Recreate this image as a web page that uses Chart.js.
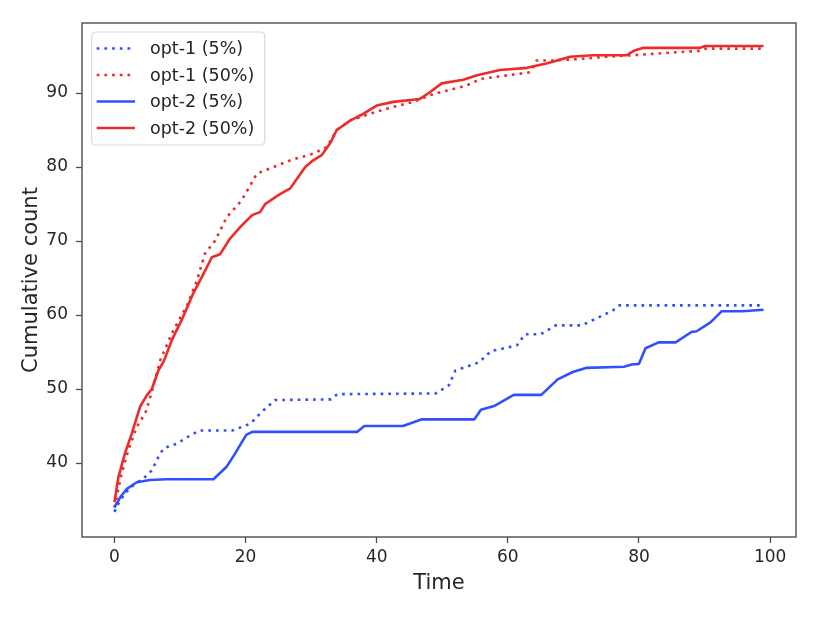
<!DOCTYPE html>
<html>
<head>
<meta charset="utf-8">
<script src="https://cdn.jsdelivr.net/npm/chart.js@4.4.1/dist/chart.umd.min.js"></script>
<style>
  body { margin: 0; background: #fff; }
  canvas { display: block; }
</style>
</head>
<body>
<canvas id="chart" width="822" height="617"></canvas>
<script>
// series: times and cumulative counts
const opt1LowT = [0, 0.6, 1.6, 2.9, 4.4, 5.7, 6.7, 7.5, 9.5, 11.5, 13, 18, 20.7, 22.7, 24.5, 33, 34, 49, 51, 52, 55.6, 57.4, 61.4, 62.6, 65, 67.3, 71.3, 76, 77, 99];
const opt1LowV = [33.4, 34.5, 35.9, 37.0, 37.9, 39.0, 40.8, 42.0, 42.6, 43.7, 44.4, 44.4, 45.3, 47.1, 48.5, 48.6, 49.3, 49.4, 50.5, 52.5, 53.6, 55.1, 55.9, 57.4, 57.4, 58.6, 58.6, 60.6, 61.3, 61.3];

const opt1HighT = [0, 1.1, 2.1, 3.4, 4.7, 5.4, 7.0, 8.75, 10.5, 11, 12.6, 13.8, 15.4, 17.1, 19.4, 20.7, 21.7, 23.7, 26.8, 30.3, 32.4, 33.9, 36, 39, 42, 45.6, 48.1, 49.7, 53.7, 55.8, 63.4, 64.4, 67, 71, 75, 79, 84, 89.3, 90.1, 99];
const opt1HighV = [34.0, 38.6, 41.7, 44.9, 46.7, 48.7, 53.9, 57.5, 60.4, 61.1, 64.7, 68.3, 70.1, 73.2, 75.5, 77.5, 79.1, 79.8, 80.9, 81.8, 82.7, 85.0, 86.3, 87.2, 88.0, 88.8, 89.7, 90.1, 91.0, 91.9, 92.8, 94.4, 94.4, 94.6, 94.9, 95.1, 95.4, 95.7, 96.0, 96.0];

const opt2LowT = [0, 0.9, 1.9, 3.4, 5.4, 8, 15.1, 17.1, 18.2, 20.1, 21, 37, 38.1, 44, 46.9, 54.9, 55.9, 57.9, 60.9, 65.1, 67.6, 69.9, 71.9, 77.7, 78.9, 80, 81, 83, 85.6, 88, 88.8, 90.9, 92.6, 95.8, 99];
const opt2LowV = [34.0, 35.4, 36.5, 37.4, 37.7, 37.8, 37.8, 39.5, 41.0, 43.8, 44.2, 44.2, 45.0, 45.0, 45.9, 45.9, 47.2, 47.7, 49.2, 49.2, 51.3, 52.3, 52.85, 53.0, 53.3, 53.4, 55.5, 56.3, 56.3, 57.7, 57.8, 59.0, 60.5, 60.5, 60.7];

const opt2HighT = [0, 0.6, 1.6, 2.65, 3.9, 4.9, 5.7, 6.7, 7.5, 8.75, 10.3, 12, 13.6, 14.85, 16.1, 17.6, 19.2, 21, 22.2, 23, 25, 26.8, 28, 29.1, 30.3, 31.6, 32.9, 33.9, 36, 38, 40, 42.5, 46.6, 48.1, 49.9, 53.2, 55.3, 58.8, 62.9, 65.9, 67.5, 69.5, 73, 78.1, 79.2, 80.7, 89.3, 90.1, 99];
const opt2HighV = [34.7, 38.1, 41.3, 44.0, 47.6, 49.1, 50.0, 52.5, 53.7, 56.6, 59.4, 62.9, 65.6, 67.8, 68.2, 70.3, 71.9, 73.5, 73.9, 75.0, 76.2, 77.1, 78.6, 80.0, 80.9, 81.6, 83.2, 85.0, 86.3, 87.2, 88.3, 88.8, 89.2, 90.1, 91.3, 91.8, 92.4, 93.1, 93.4, 94.0, 94.4, 94.9, 95.1, 95.1, 95.7, 96.1, 96.1, 96.35, 96.35];

const seriesLabels = ['opt-1 (5%)', 'opt-1 (50%)', 'opt-2 (5%)', 'opt-2 (50%)'];
const xTicks = [0, 20, 40, 60, 80, 100];
const yTicks = [40, 50, 60, 70, 80, 90];

const BLUE = '#3050ff';
const RED = '#ee2a2a';
const INK = '#262626';
const SPINE = '#4d4d4d';
const FONT = "'DejaVu Sans', sans-serif";

function pts(t, v) {
    return t.map((x, i) => ({ x: x, y: v[i] }));
}

const dotted = [2.7, 5];

// frame around the plot area, like matplotlib spines
const framePlugin = {
    id: 'frame',
    afterDraw(chart) {
        const { ctx, chartArea: a } = chart;
        ctx.save();
        ctx.strokeStyle = SPINE;
        ctx.lineWidth = 1.4;
        ctx.strokeRect(a.left, a.top, a.right - a.left, a.bottom - a.top);
        ctx.restore();
    }
};

// legend box in the upper left corner of the axes
const boxLegend = {
    id: 'boxLegend',
    afterDraw(chart) {
        const { ctx, chartArea: a } = chart;
        const x0 = a.left + 9.7, y0 = a.top + 9, w = 173, h = 113;
        ctx.save();
        ctx.beginPath();
        ctx.roundRect(x0, y0, w, h, 4);
        ctx.fillStyle = 'rgba(255,255,255,0.8)';
        ctx.fill();
        ctx.strokeStyle = '#d9d9d9';
        ctx.lineWidth = 1.2;
        ctx.stroke();
        chart.data.datasets.forEach((ds, i) => {
            const yc = a.top + 25.5 + i * 26.5;
            ctx.beginPath();
            ctx.setLineDash(ds.borderDash || []);
            ctx.lineCap = 'butt';
            ctx.strokeStyle = ds.borderColor;
            ctx.lineWidth = ds.borderWidth;
            ctx.moveTo(a.left + 14.7, yc);
            ctx.lineTo(a.left + 53, yc);
            ctx.stroke();
            ctx.setLineDash([]);
            ctx.fillStyle = INK;
            ctx.font = '17.5px ' + FONT;
            ctx.textBaseline = 'middle';
            ctx.textAlign = 'left';
            ctx.fillText(ds.label, a.left + 68, yc + 1);
        });
        ctx.restore();
    }
};

const chart = new Chart(document.getElementById('chart').getContext('2d'), {
    type: 'line',
    data: {
        datasets: [
            { label: seriesLabels[0], data: pts(opt1LowT, opt1LowV), borderColor: BLUE, borderDash: dotted, order: 4 },
            { label: seriesLabels[1], data: pts(opt1HighT, opt1HighV), borderColor: RED, borderDash: dotted, order: 3 },
            { label: seriesLabels[2], data: pts(opt2LowT, opt2LowV), borderColor: BLUE, order: 2 },
            { label: seriesLabels[3], data: pts(opt2HighT, opt2HighV), borderColor: RED, order: 1 }
        ].map(d => Object.assign({ borderWidth: 2.6, pointRadius: 0, tension: 0, fill: false, borderJoinStyle: 'round' }, d))
    },
    options: {
        responsive: false,
        animation: false,
        layout: { padding: { top: 23, right: 26, left: 0, bottom: 0 } },
        plugins: {
            legend: { display: false },
            tooltip: { enabled: false }
        },
        scales: {
            x: {
                type: 'linear',
                min: -4.95,
                max: 103.95,
                afterBuildTicks: s => { s.ticks = xTicks.map(v => ({ value: v })); },
                afterFit: s => { s.height = 80; },
                grid: { drawOnChartArea: false, drawTicks: true, tickLength: 6, tickColor: SPINE, tickWidth: 1.3 },
                border: { display: false },
                ticks: { color: INK, padding: 4, font: { family: FONT, size: 17 }, maxRotation: 0 },
                title: { display: true, text: 'Time', color: INK, font: { family: FONT, size: 21 }, padding: { top: 4, bottom: 21 } }
            },
            y: {
                type: 'linear',
                min: 30.0,
                max: 99.46,
                afterBuildTicks: s => { s.ticks = yTicks.map(v => ({ value: v })); },
                afterFit: s => { s.width = 82; },
                grid: { drawOnChartArea: false, drawTicks: true, tickLength: 6, tickColor: SPINE, tickWidth: 1.3 },
                border: { display: false },
                ticks: { color: INK, padding: 8, font: { family: FONT, size: 17 } },
                title: { display: true, text: 'Cumulative count', color: INK, font: { family: FONT, size: 21 }, padding: { top: 19, bottom: 4 } }
            }
        }
    },
    plugins: [framePlugin, boxLegend]
});
</script>
</body>
</html>
